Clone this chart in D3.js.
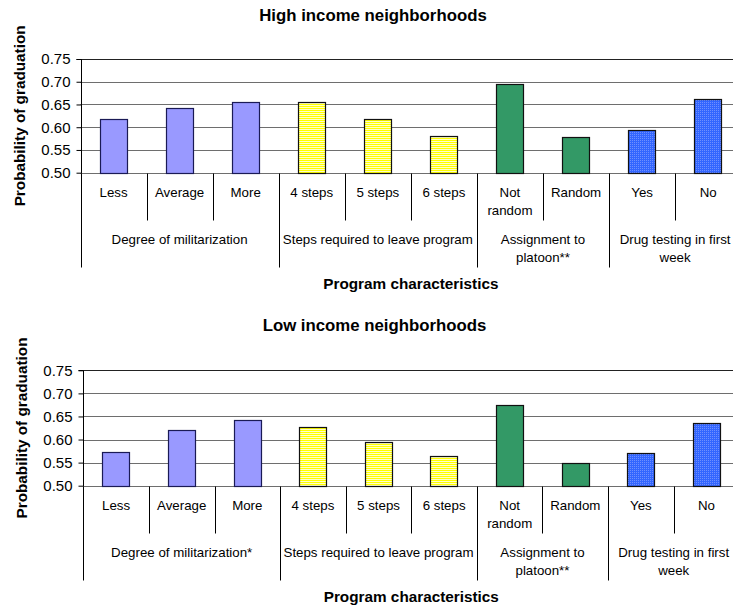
<!DOCTYPE html>
<html><head><meta charset="utf-8">
<script src="https://cdn.jsdelivr.net/npm/d3@7"></script>
<style>
body{margin:0;background:#fff;}
svg{display:block;}
text{font-family:Arial,"Liberation Sans",sans-serif;fill:#000;}
</style></head>
<body>
<svg id="chart" width="733" height="610"></svg>
<script>
// ---- data ----
const categories = ["Less","Average","More","4 steps","5 steps","6 steps","Not random","Random","Yes","No"];
const groupSizes = [3,3,2,2];
const groupNamesHigh = ["Degree of militarization","Steps required to leave program","Assignment to platoon**","Drug testing in first week"];
const groupNamesLow  = ["Degree of militarization*","Steps required to leave program","Assignment to platoon**","Drug testing in first week"];
const highValues = [0.617,0.642,0.655,0.655,0.617,0.580,0.696,0.578,0.594,0.661];
const lowValues  = [0.572,0.620,0.643,0.627,0.594,0.564,0.674,0.550,0.570,0.636];
const yTicks = [0.50,0.55,0.60,0.65,0.70,0.75];
const titles = ["High income neighborhoods","Low income neighborhoods"];
const xTitle = "Program characteristics";
const yTitle = "Probability of graduation";
const groupFills = ["url(#fillPurple)","url(#fillYellow)","url(#fillGreen)","url(#fillBlue)"];

const svg = d3.select("#chart");
const defs = svg.append("defs");
// purple solid
let p = defs.append("pattern").attr("id","fillPurple").attr("patternUnits","userSpaceOnUse").attr("width",4).attr("height",4);
p.append("rect").attr("width",4).attr("height",4).attr("fill","#9999ff");
// yellow horizontal stripes
p = defs.append("pattern").attr("id","fillYellow").attr("patternUnits","userSpaceOnUse").attr("width",4).attr("height",2);
p.append("rect").attr("width",4).attr("height",2).attr("fill","#ffff00");
p.append("rect").attr("width",4).attr("height",1).attr("y",1).attr("fill","#ffffc8");
// green solid
p = defs.append("pattern").attr("id","fillGreen").attr("patternUnits","userSpaceOnUse").attr("width",4).attr("height",4);
p.append("rect").attr("width",4).attr("height",4).attr("fill","#339966");
// blue dotted
p = defs.append("pattern").attr("id","fillBlue").attr("patternUnits","userSpaceOnUse").attr("width",2).attr("height",2);
p.append("rect").attr("width",2).attr("height",2).attr("fill","#3366ff");
p.append("rect").attr("width",1).attr("height",1).attr("fill","#6f8fff");

function wrap(textSel, maxW, lineH){
  textSel.each(function(){
    const t = d3.select(this);
    const words = t.text().split(/\s+/);
    const x = t.attr("x");
    t.text(null);
    let line = [];
    let tspan = t.append("tspan").attr("x",x).attr("dy",0);
    words.forEach(w=>{
      line.push(w);
      tspan.text(line.join(" "));
      if(tspan.node().getComputedTextLength() > maxW && line.length>1){
        line.pop();
        tspan.text(line.join(" "));
        line=[w];
        tspan = t.append("tspan").attr("x",x).attr("dy",lineH).text(w);
      }
    });
  });
}

function drawChart(cfg){
  const g = svg.append("g");
  const x = d3.scaleBand().domain(categories).range([cfg.left,cfg.right]).paddingInner(0).paddingOuter(0);
  const y = d3.scaleLinear().domain([0.5,0.75]).range([cfg.bottom,cfg.top]);
  const bw = x.bandwidth()*0.415;

  // title
  g.append("text").attr("x",cfg.titleX).attr("y",cfg.titleY).attr("text-anchor","middle")
    .style("font-size","16.8px").style("font-weight","bold").text(cfg.title);

  // gridlines
  g.selectAll("line.grid").data(yTicks).join("line").attr("class","grid")
    .attr("x1",cfg.left).attr("x2",cfg.right)
    .attr("y1",d=>Math.round(y(d))+0.5).attr("y2",d=>Math.round(y(d))+0.5)
    .attr("stroke",d=>d===0.75?"#222":"#6e6e6e").attr("stroke-width",1);

  // y axis
  const yAxis = d3.axisLeft(y).tickValues(yTicks).tickFormat(d3.format(".2f")).tickSize(5).tickPadding(6);
  const ya = g.append("g").attr("transform",`translate(${Math.round(cfg.left)+0.5},0)`).call(yAxis);
  ya.select(".domain").attr("stroke","#000").attr("d",`M-5,${Math.round(cfg.top)+0.5}H0V${Math.round(cfg.bottom)+0.5}`);
  ya.selectAll(".tick line").attr("stroke","#000");
  ya.selectAll(".tick text").style("font-size","15px").style("font-family","Arial,'Liberation Sans',sans-serif").attr("fill","#000");

  // bars
  const fillOf = i => { let s=0; for(let k=0;k<groupSizes.length;k++){ s+=groupSizes[k]; if(i<s) return groupFills[k]; } };
  g.selectAll("rect.bar").data(cfg.values).join("rect").attr("class","bar")
    .attr("x",(d,i)=>Math.round(x(categories[i])+x.bandwidth()/2-bw/2)+0.5)
    .attr("width",Math.round(bw))
    .attr("y",d=>Math.round(y(d))+0.5)
    .attr("height",d=>Math.round(y(0.5))-Math.round(y(d)))
    .attr("fill",(d,i)=>fillOf(i))
    .attr("stroke",(d,i)=>i<3?"#1a1a55":"#111").attr("stroke-width",1.2);

  // category labels & ticks
  const axisY = Math.round(cfg.bottom)+0.5;
  const boundaries = [0];
  groupSizes.reduce((a,b)=>{boundaries.push(a+b);return a+b;},0);
  categories.forEach((c,i)=>{
    const xl = Math.round(x(c))+0.5;
    const long = boundaries.includes(i);
    g.append("line").attr("x1",xl).attr("x2",xl).attr("y1",axisY).attr("y2",axisY+(long?94:47)).attr("stroke","#000");
  });
  g.append("line").attr("x1",Math.round(cfg.right)+0.5).attr("x2",Math.round(cfg.right)+0.5).attr("y1",axisY).attr("y2",axisY+94).attr("stroke","#000");
  g.selectAll("text.cat").data(categories).join("text").attr("class","cat")
    .attr("x",d=>x(d)+x.bandwidth()/2).attr("y",axisY+23.5).attr("text-anchor","middle")
    .style("font-size","13.3px").text(d=>d)
    .call(wrap, x.bandwidth()-8, 18);

  // group labels
  let start = 0;
  cfg.groups.forEach((name,k)=>{
    const x0 = x(categories[start]);
    const x1 = x(categories[start+groupSizes[k]-1])+x.bandwidth();
    g.append("text").attr("x",(x0+x1)/2).attr("y",axisY+70).attr("text-anchor","middle")
      .style("font-size","13.3px").text(name).call(wrap, x1-x0-4, 18);
    start += groupSizes[k];
  });

  // axis titles
  g.append("text").attr("x",(cfg.left+cfg.right)/2).attr("y",axisY+115.5).attr("text-anchor","middle")
    .style("font-size","15.3px").style("font-weight","bold").text(xTitle);
  g.append("text").attr("transform",`translate(${cfg.yTitleX},${(cfg.top+cfg.bottom)/2}) rotate(-90)`)
    .attr("text-anchor","middle").style("font-size","15.3px").style("font-weight","bold").text(yTitle);
}

drawChart({title:titles[0], titleX:373, titleY:20.5, left:80.5, right:741.2, top:59, bottom:172.7,
  values:highValues, groups:groupNamesHigh, yTitleX:25});
drawChart({title:titles[1], titleX:374.5, titleY:330.5, left:83.3, right:739.3, top:370.3, bottom:485.7,
  values:lowValues, groups:groupNamesLow, yTitleX:27});
</script>
</body></html>
